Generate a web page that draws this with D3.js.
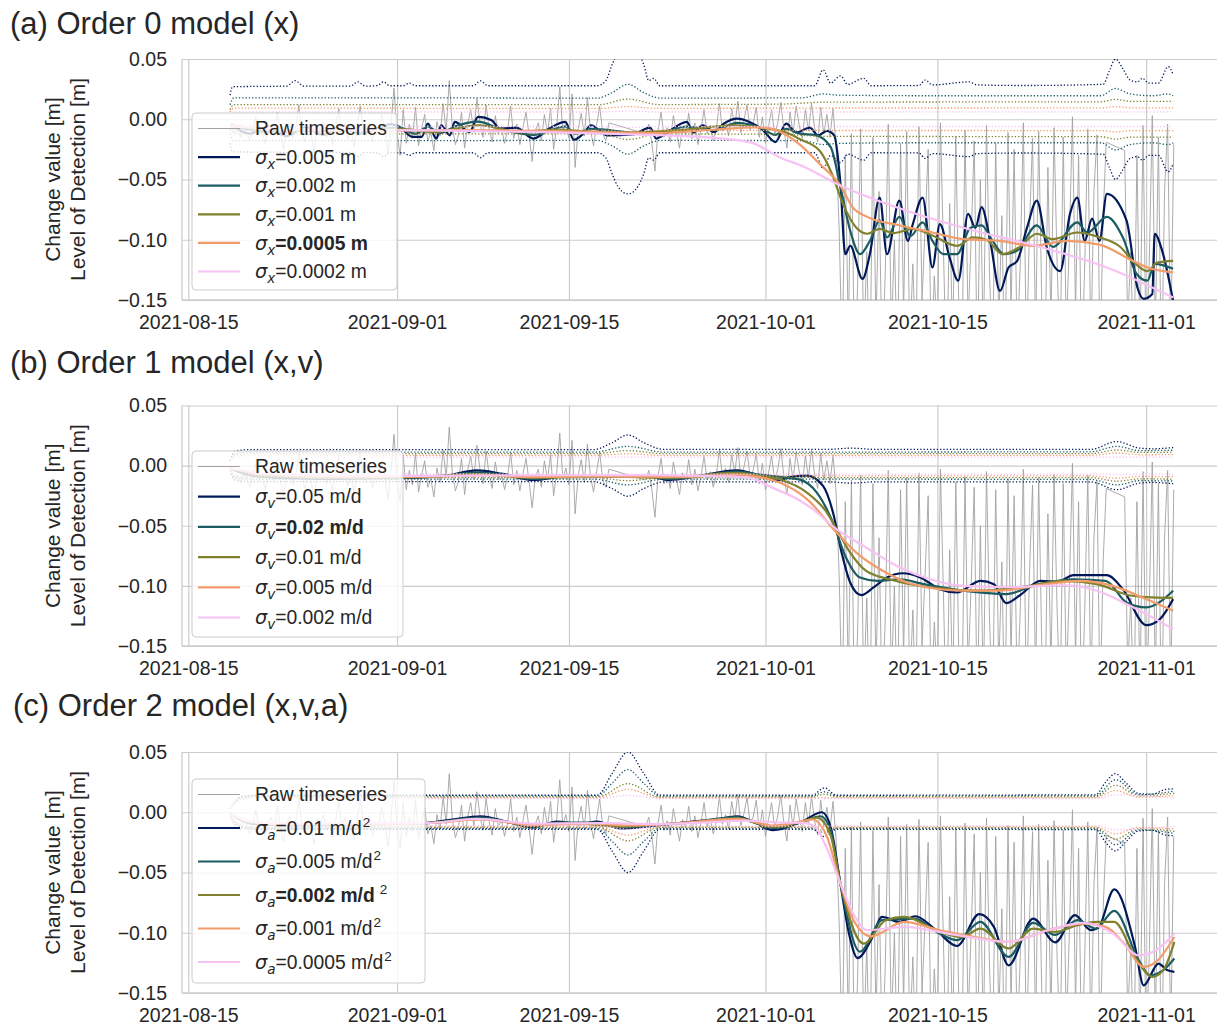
<!DOCTYPE html>
<html>
<head>
<meta charset="utf-8">
<script src="https://cdn.jsdelivr.net/npm/d3@7"></script>
<style>
  body { margin: 0; background: #fff; }
  text { font-family: "Liberation Sans", Arial, sans-serif; fill: #262626; }
</style>
</head>
<body>
<svg id="chart" width="1217" height="1027"></svg>
<script>
// ---- data -----------------------------------------------------------------
// raw change values [m], one every 6 hours from rawStart (null = no data)
const rawStart = '2021-08-18T12:00Z'
const rawStepHours = 6
const rawValues = [
  -0.004, -0.012,
  -0.008, -0.015, -0.006, -0.011,  -0.018, -0.009, 0.002, -0.013,  -0.007, -0.02, -0.01, -0.004,
  -0.014, 0.006, -0.012, -0.025,  -0.009, -0.003, -0.016, -0.008,  0.012, -0.011, -0.019, -0.006,
  -0.013, -0.027, -0.005, -0.01,  -0.002, -0.015, -0.009, -0.021,  -0.007, 0.009, -0.012, -0.004,
  -0.017, -0.008, -0.023, -0.006,  0.011, -0.01, -0.014, -0.003,  -0.019, -0.008, -0.012, 0.004,
  -0.009, -0.028, -0.006, 0.026,  -0.012, -0.03, 0.008, -0.02,  -0.004, -0.016, 0.01, -0.022,
  -0.008, 0.004, -0.018, -0.011,  -0.026, -0.002, -0.014, 0.013,  -0.01, 0.032, -0.006, -0.021,
  -0.013, 0.006, -0.024, -0.004,  0.008, -0.011, 0.017, -0.003,  -0.015, 0.012, -0.008, -0.019,
  0.003, -0.012, -0.006, -0.02,  -0.009, 0.011, -0.016, -0.004,  -0.021, -0.007, 0.006, -0.013,
  -0.035, -0.01, -0.003, -0.018,  0.004, -0.012, 0.009, -0.025,  -0.006, 0.027, -0.011, -0.002,
  -0.016, 0.021, -0.04, -0.008,  0.005, -0.014, 0.018, -0.009,  -0.022, -0.005, 0.011, -0.012,
  -0.018, -0.003, null, null,  null, null, null, null,  null, null, null, null,
  null, -0.012, -0.004, -0.02,  -0.043, -0.009, 0.006, -0.015,  -0.007, -0.019, 0.003, -0.011,
  -0.024, -0.006, -0.013, 0.005,  -0.016, -0.003, -0.021, -0.009,  0.008, -0.012, -0.005, -0.018,
  -0.008, 0.013, -0.01, -0.002,  -0.014, 0.009, -0.006, 0.015,  -0.011, -0.001, 0.012, -0.009,
  -0.004, 0.01, -0.015, 0.002,  -0.02, -0.006, 0.008, -0.013,  -0.003, 0.014, -0.009, -0.024,
  0.006, -0.012, 0.011, -0.005,  -0.016, 0.008, -0.01, 0.013,  -0.007, -0.019, 0.01, -0.012,
  0.004, -0.015, 0.009, -0.022,  -0.09, -0.2, -0.03, -0.18,  -0.012, -0.21, -0.14, -0.008,
  -0.19, -0.11, -0.22, -0.015,  -0.17, -0.06, -0.2, -0.13,  -0.004, -0.18, -0.1, -0.21,
  -0.02, -0.16, -0.01, -0.19,  -0.12, -0.2, -0.006, -0.15,  -0.09, -0.025, -0.2, -0.13,
  -0.18, -0.003, -0.11, -0.22,  -0.07, -0.19, -0.014, -0.16,  -0.2, -0.009, -0.17, -0.1,
  -0.018, -0.21, -0.05, -0.19,  -0.005, -0.13, -0.2, -0.02,  -0.17, -0.08, -0.22, -0.011,
  -0.16, -0.025, -0.19, -0.12,  -0.003, -0.2, -0.09, -0.016,  -0.18, -0.01, -0.15, -0.21,
  -0.04, -0.17, -0.007, -0.12,  -0.2, -0.015, -0.18, -0.1,  0.002, -0.16, -0.03, -0.21,
  -0.12, -0.008, -0.19, -0.06,  -0.013, -0.2, -0.08, -0.019,  null, null, null, null,
  null, -0.026, -0.17, -0.11,  -0.21, -0.03, -0.19, -0.005,  -0.2, -0.12, 0.003, -0.18,
  -0.015, -0.22, -0.06, -0.004,  -0.19, -0.02
]

// smoothed series: [days since dayZero, value in m]
const dayZero = '2021-08-15T00:00Z'

// (a) order 0
const fitX005 = [[3.5,-0.004],[5,-0.012],[6.5,-0.006],[8,-0.014],[9.5,-0.007],[11,-0.013],[12.5,-0.005],[14,-0.012],[15.5,-0.007],[16.5,-0.004],[17.2,-0.0064],[18.3,-0.0147],[19,-0.0147],[19.5,-0.0036],[20.2,-0.016],[20.6,-0.005],[21.3,-0.0133],[21.7,-0.0022],[22.9,-0.0106],[23.6,0.002],[24.7,-0.0008],[25.4,-0.0078],[26.7,-0.007],[28.1,-0.016],[29.5,-0.007],[30.7,-0.0022],[31.4,-0.017],[32.2,-0.0117],[32.8,-0.005],[34.1,-0.0133],[36.2,-0.0125],[37.6,-0.007],[38.1,-0.016],[39,-0.011],[40.6,-0.0022],[41.1,-0.011],[41.9,-0.005],[42.8,-0.0106],[43.6,-0.0036],[44.7,0.0006],[45.7,-0.0022],[46.8,-0.009],[47.8,-0.0189],[48.7,-0.0036],[49.5,-0.011],[50.6,-0.007],[51.3,-0.0135],[52,-0.0097],[52.6,-0.0135],[53.1,-0.053],[53.5,-0.112],[53.9,-0.105],[54.9,-0.1325],[55.5,-0.112],[56.3,-0.065],[56.9,-0.112],[57.9,-0.0675],[58.6,-0.101],[59,-0.087],[59.8,-0.065],[60.6,-0.123],[61.2,-0.087],[62,-0.115],[62.7,-0.134],[63.5,-0.0785],[64.1,-0.09],[64.6,-0.073],[65.3,-0.101],[66.1,-0.1425],[66.8,-0.123],[67.5,-0.1175],[68.3,-0.09],[69.1,-0.0675],[69.9,-0.106],[71,-0.126],[71.8,-0.0785],[72.4,-0.065],[73,-0.101],[73.6,-0.0825],[74.2,-0.101],[74.8,-0.062],[76.4,-0.084],[77.3,-0.14],[77.8,-0.149],[78.5,-0.145],[78.7,-0.095],[79.3,-0.109],[80.2,-0.151]]
const fitX002 = [[3.5,-0.005],[6,-0.01],[10,-0.0095],[14,-0.009],[17.2,-0.007],[18.5,-0.012],[19.5,-0.006],[20.5,-0.0115],[21.7,-0.006],[23.6,-0.002],[25.4,-0.008],[28.1,-0.013],[30.7,-0.006],[31.5,-0.012],[32.8,-0.008],[36,-0.011],[38,-0.012],[40.6,-0.006],[42.8,-0.009],[44.7,-0.003],[46.8,-0.008],[47.8,-0.013],[48.7,-0.008],[49.8,-0.012],[51,-0.013],[52.3,-0.023],[53.1,-0.056],[53.9,-0.0925],[54.7,-0.112],[55.5,-0.101],[56.3,-0.084],[56.9,-0.098],[57.9,-0.081],[58.8,-0.097],[59.8,-0.0855],[60.6,-0.101],[61.5,-0.112],[62.6,-0.112],[63.7,-0.09],[64.6,-0.088],[65.5,-0.101],[66.4,-0.112],[67.5,-0.109],[69.1,-0.088],[70.4,-0.106],[72.4,-0.0855],[73.2,-0.094],[74.8,-0.081],[76.1,-0.098],[77.2,-0.128],[78.1,-0.134],[78.7,-0.12],[80.2,-0.124]]
const fitX001 = [[3.5,-0.005],[8,-0.0095],[14,-0.009],[17.2,-0.008],[20,-0.0105],[23.6,-0.005],[27,-0.0105],[30,-0.0085],[33,-0.0105],[36,-0.011],[40,-0.009],[44.5,-0.005],[47,-0.0075],[48.7,-0.011],[49.8,-0.0165],[51.4,-0.026],[52.4,-0.045],[53.3,-0.07],[54.4,-0.09],[55.3,-0.095],[56.3,-0.091],[57.4,-0.0945],[59,-0.091],[60.6,-0.0965],[62.6,-0.105],[63.9,-0.098],[65,-0.1],[66.3,-0.112],[67.7,-0.106],[69.1,-0.095],[70.4,-0.0995],[72.4,-0.094],[74.2,-0.098],[75.9,-0.106],[76.9,-0.1175],[78.1,-0.126],[78.9,-0.119],[80.2,-0.1175]]
const fitX0005 = [[3.5,-0.005],[8,-0.009],[15,-0.0095],[22,-0.009],[30,-0.01],[38,-0.0115],[43,-0.0085],[46,-0.0068],[47.1,-0.0072],[48.5,-0.012],[49.8,-0.021],[51.4,-0.037],[53.1,-0.055],[54.1,-0.073],[55.3,-0.081],[57.9,-0.088],[60.6,-0.094],[62.8,-0.099],[66.1,-0.101],[68.8,-0.105],[71.6,-0.101],[74.2,-0.104],[76.9,-0.1175],[78.1,-0.123],[80.2,-0.127]]
const fitX0002 = [[3.5,-0.006],[8,-0.008],[17,-0.009],[28,-0.0105],[36.2,-0.0125],[41.7,-0.0147],[45.7,-0.019],[48.4,-0.0327],[49.8,-0.038],[53.1,-0.055],[58.5,-0.076],[64,-0.0925],[69.4,-0.106],[74.8,-0.123],[80.2,-0.148]]

// (b) order 1
const fitV05 = [[3.4,-0.002],[5,-0.008],[8,-0.0105],[12,-0.011],[15,-0.0105],[17.5,-0.0102],[21,-0.0083],[23.5,-0.0039],[25.6,-0.0069],[28.1,-0.0119],[30.8,-0.0088],[34.6,-0.0088],[37.3,-0.0088],[39.2,-0.0119],[41.4,-0.0088],[44.7,-0.0039],[46.3,-0.0075],[47.9,-0.0124],[49,-0.0095],[50.4,-0.0083],[51.7,-0.0171],[52.5,-0.039],[53.2,-0.0723],[53.9,-0.0972],[54.8,-0.1077],[55.8,-0.1013],[56.9,-0.093],[58.2,-0.0895],[59.6,-0.093],[61.2,-0.1027],[62.6,-0.1055],[64.5,-0.0958],[65.6,-0.0986],[66.6,-0.1143],[67.7,-0.108],[69.4,-0.0958],[70.8,-0.0966],[72.1,-0.0911],[74.8,-0.0911],[76.1,-0.1027],[78,-0.1326],[79.1,-0.1278],[80.2,-0.111]]
const fitV02 = [[3.4,-0.002],[6,-0.008],[12,-0.0105],[17.5,-0.01],[21,-0.0085],[23.5,-0.0055],[25.6,-0.0075],[28.1,-0.011],[30.8,-0.009],[34.6,-0.009],[37.3,-0.009],[39.2,-0.011],[41.4,-0.009],[44.7,-0.005],[46.3,-0.0072],[48.2,-0.0094],[49.8,-0.0116],[51.2,-0.0226],[52.5,-0.0475],[53.5,-0.0751],[54.7,-0.093],[56.1,-0.0958],[57.9,-0.0945],[59.9,-0.0986],[63.1,-0.104],[66.6,-0.1069],[68.8,-0.1],[72,-0.0945],[74.7,-0.0958],[76.4,-0.1138],[78,-0.1179],[80.2,-0.104]]
const fitV01 = [[3.4,-0.002],[6,-0.008],[12,-0.01],[17.5,-0.0098],[23.5,-0.007],[28.1,-0.01],[34,-0.009],[39,-0.01],[44.7,-0.006],[46.5,-0.0085],[48.2,-0.0116],[50.4,-0.0226],[52,-0.039],[52.8,-0.053],[53.9,-0.0723],[55.2,-0.0876],[57.1,-0.0945],[60.4,-0.1013],[64.5,-0.104],[68.5,-0.1],[71.2,-0.0958],[74,-0.0986],[76.7,-0.108],[78.5,-0.1096],[80.2,-0.11]]
const fitV005 = [[3.4,-0.002],[6,-0.007],[12,-0.0095],[20,-0.0092],[24,-0.0078],[28,-0.0095],[35,-0.009],[40,-0.0095],[44.5,-0.0075],[46.5,-0.0095],[48.2,-0.0143],[50.4,-0.028],[52.8,-0.0558],[54.4,-0.0723],[56.3,-0.086],[59,-0.0986],[63.1,-0.104],[65.8,-0.104],[69.9,-0.0986],[72.6,-0.0958],[75.3,-0.1],[78,-0.111],[80.2,-0.1207]]
const fitV002 = [[3.4,-0.002],[6,-0.006],[12,-0.0085],[20,-0.0085],[30,-0.008],[38,-0.008],[42,-0.0085],[45.5,-0.0097],[47.6,-0.0185],[49.8,-0.029],[50.9,-0.0365],[52.8,-0.053],[55,-0.0668],[57.7,-0.0834],[60.4,-0.0945],[63.1,-0.1],[67.2,-0.101],[71.2,-0.0995],[74,-0.104],[76.7,-0.1166],[80.2,-0.136]]

// (c) order 2
const fitA01 = [[3.4,-0.001],[5,-0.009],[8,-0.011],[12,-0.0105],[16,-0.0095],[19.4,-0.0089],[21.5,-0.006],[23.8,-0.0033],[26,-0.008],[28.1,-0.0125],[30,-0.0077],[31.9,-0.0099],[33.3,-0.0077],[35.2,-0.0135],[37.6,-0.0116],[39.5,-0.0095],[41.1,-0.0077],[43,-0.006],[44.7,-0.0033],[46.2,-0.009],[47.6,-0.0149],[50,-0.0077],[51.6,0],[52.3,-0.0119],[53.1,-0.059],[53.8,-0.1007],[54.5,-0.121],[55.6,-0.106],[56.5,-0.0868],[57.9,-0.091],[59.2,-0.0863],[60.9,-0.0979],[62.6,-0.111],[64.4,-0.0846],[65.6,-0.0951],[66.8,-0.127],[68.8,-0.0882],[70.6,-0.108],[72.2,-0.0854],[73.5,-0.0979],[74.1,-0.096],[75.4,-0.064],[77.1,-0.1118],[77.8,-0.1436],[79,-0.1256],[79.7,-0.131],[80.3,-0.1325]]
const fitA005 = [[3.4,-0.001],[5,-0.009],[8,-0.0105],[14,-0.01],[19.4,-0.009],[23.8,-0.0045],[28.1,-0.0115],[30,-0.0085],[33.3,-0.0085],[35.2,-0.0125],[37.6,-0.011],[41.1,-0.008],[44.7,-0.004],[47.6,-0.013],[50,-0.008],[51.5,-0.0033],[52.3,-0.015],[53.1,-0.059],[54.7,-0.1157],[56.5,-0.0896],[59.1,-0.0882],[61.2,-0.1007],[62.6,-0.1062],[64.5,-0.091],[66.8,-0.12],[68.8,-0.0918],[70.6,-0.1018],[72.4,-0.0896],[73.9,-0.0965],[75.4,-0.0819],[77.4,-0.1228],[78.3,-0.1353],[79.4,-0.131],[80.3,-0.1214]]
const fitA002 = [[3.4,-0.001],[5,-0.008],[8,-0.01],[14,-0.0098],[19.4,-0.009],[23.8,-0.0055],[28.1,-0.011],[31,-0.009],[35.2,-0.012],[37.6,-0.0105],[41.1,-0.0085],[44.7,-0.005],[47.6,-0.012],[49.8,-0.0085],[51.2,-0.0044],[52.3,-0.019],[53.1,-0.059],[55,-0.109],[56.8,-0.0896],[58.3,-0.0868],[61.2,-0.0993],[63,-0.1035],[64.5,-0.0965],[66.8,-0.113],[68.8,-0.0965],[70.6,-0.0993],[72.4,-0.0938],[73.9,-0.091],[75.4,-0.091],[77.1,-0.12],[78.5,-0.1366],[79.4,-0.131],[80.3,-0.1076]]
const fitA001 = [[3.4,-0.001],[5,-0.008],[8,-0.0098],[14,-0.0096],[19.4,-0.009],[23.8,-0.006],[28.1,-0.0105],[33,-0.0095],[36,-0.011],[40,-0.009],[44.7,-0.0055],[47.6,-0.011],[49.5,-0.0085],[50.8,-0.006],[52,-0.02],[53.1,-0.059],[54.2,-0.09],[55.6,-0.103],[58.3,-0.091],[61.2,-0.0979],[64.1,-0.1035],[66.8,-0.1076],[70,-0.0979],[72.9,-0.0924],[74.7,-0.0951],[76.2,-0.109],[77.8,-0.1283],[78.8,-0.1242],[80.3,-0.1035]]
const fitA0005 = [[3.4,-0.001],[5,-0.0075],[8,-0.0095],[14,-0.0093],[19.4,-0.009],[23.5,-0.0055],[28,-0.0095],[34,-0.009],[38,-0.0098],[42,-0.0085],[45.5,-0.007],[48,-0.0085],[50.1,-0.0088],[51,-0.0116],[52,-0.03],[53.1,-0.059],[54.2,-0.085],[55.3,-0.0979],[58.3,-0.0951],[62.6,-0.102],[66.8,-0.1076],[70,-0.0979],[72.9,-0.0918],[75.3,-0.1007],[77.4,-0.1187],[78.8,-0.1145],[80.3,-0.1007]]

// level of detection (half width, drawn as +lod and -lod)
const lodX005 = [[3.4,0.02],[3.6,0.027],[8,0.0275],[8.7,0.032],[9.4,0.0275],[13.2,0.0275],[13.8,0.031],[14.4,0.0275],[15.4,0.028],[15.9,0.031],[16.4,0.0278],[17.5,0.0278],[18,0.03],[18.5,0.0278],[23.2,0.0278],[23.8,0.0318],[24.4,0.0278],[33.3,0.0278],[34,0.032],[34.5,0.045],[35,0.056],[35.8,0.062],[36.6,0.056],[37.1,0.045],[37.5,0.032],[37.9,0.034],[38.4,0.0278],[51,0.0278],[51.7,0.041],[52.3,0.03],[53.1,0.036],[53.7,0.029],[55,0.034],[55.6,0.0278],[59.5,0.028],[60,0.0325],[60.6,0.0285],[63.6,0.031],[64.2,0.0285],[68,0.028],[74.5,0.029],[75,0.04],[75.5,0.05],[76.1,0.042],[76.7,0.0325],[77.3,0.031],[77.7,0.034],[78.2,0.03],[79,0.03],[79.8,0.0436],[80.2,0.037]]
const lodX002 = [[3.4,0.012],[3.7,0.0178],[17,0.0178],[33.3,0.0175],[34.5,0.022],[35.8,0.029],[37.1,0.022],[38.5,0.0175],[50,0.0178],[51.7,0.021],[53,0.02],[60,0.0195],[74.3,0.0195],[75.5,0.0255],[76.7,0.021],[78.5,0.0195],[79.8,0.021],[80.2,0.0195]]
const lodX001 = [[3.4,0.008],[3.7,0.0122],[33.5,0.0122],[35.8,0.0168],[38.3,0.0122],[48,0.0125],[52,0.0142],[74.3,0.0145],[75.5,0.0165],[76.8,0.0148],[80.2,0.0148]]
const lodX0005 = [[3.4,0.006],[3.7,0.0092],[33.5,0.009],[35.8,0.0105],[38.3,0.009],[50,0.0093],[74.3,0.0094],[75.5,0.0105],[76.8,0.0095],[80.2,0.0095]]
const lodX0002 = [[3.4,0.004],[3.7,0.006],[33.5,0.006],[35.8,0.0068],[38.3,0.006],[80.2,0.0062]]

const lodV05 = [[3.4,0.004],[3.8,0.012],[5,0.0133],[33,0.0133],[34.5,0.019],[35.8,0.0255],[37.1,0.019],[38.7,0.0135],[52,0.0135],[54,0.0145],[56,0.0135],[73.5,0.0135],[75.6,0.02],[77.5,0.0145],[78.5,0.014],[80.2,0.015]]
const lodV02 = [[3.4,0.004],[3.8,0.01],[5,0.0112],[33,0.0112],[35.8,0.016],[38.7,0.0112],[73.5,0.0115],[75.6,0.016],[77.5,0.0125],[80.2,0.0128]]
const lodV01 = [[3.4,0.004],[3.8,0.009],[5,0.0099],[33,0.0099],[35.8,0.0125],[38.7,0.0099],[73.5,0.01],[75.6,0.013],[77.5,0.011],[80.2,0.0112]]
const lodV005 = [[3.4,0.004],[3.8,0.008],[5,0.0085],[33,0.0085],[35.8,0.0098],[38.7,0.0085],[73.5,0.0086],[75.6,0.0105],[77.5,0.009],[80.2,0.0092]]
const lodV002 = [[3.4,0.003],[3.8,0.0065],[5,0.0069],[80.2,0.0071]]

const lodA01 = [[3.4,0.003],[4.3,0.013],[5.5,0.0141],[33.3,0.0141],[34.5,0.032],[35.8,0.05],[37.1,0.032],[38.4,0.0141],[50.8,0.0141],[51.8,0.0202],[52.8,0.0141],[73.9,0.0145],[74.7,0.025],[75.5,0.032],[76.3,0.025],[77.4,0.0155],[78.5,0.015],[79.6,0.019],[80.3,0.0195]]
const lodA005 = [[3.4,0.003],[4.3,0.012],[5.5,0.0133],[33.3,0.0133],[34.5,0.024],[35.8,0.0354],[37.1,0.024],[38.4,0.0133],[50.8,0.0133],[51.8,0.017],[52.8,0.0134],[73.9,0.0136],[75.5,0.027],[77.4,0.0145],[80.3,0.0175]]
const lodA002 = [[3.4,0.003],[4.3,0.011],[5.5,0.0126],[33.3,0.0126],[35.8,0.0237],[38.4,0.0126],[50.8,0.0126],[51.8,0.015],[52.8,0.0127],[73.9,0.0128],[75.5,0.0224],[77.4,0.0135],[80.3,0.0158]]
const lodA001 = [[3.4,0.003],[4.3,0.0105],[5.5,0.012],[33.3,0.012],[35.8,0.019],[38.4,0.012],[73.9,0.012],[75.5,0.018],[77.4,0.0125],[80.3,0.0138]]
const lodA0005 = [[3.4,0.003],[4.3,0.0098],[5.5,0.0113],[33.3,0.0113],[35.8,0.014],[38.4,0.0113],[73.9,0.0113],[75.5,0.0145],[80.3,0.0118]]

// legend labels and ticks
const labelsX = ['0.005 m', '0.002 m', '0.001 m', '0.0005 m', '0.0002 m']
const labelsV = ['0.05 m/d', '0.02 m/d', '0.01 m/d', '0.005 m/d', '0.002 m/d']
const labelsA = ['0.01 m/d', '0.005 m/d', '0.002 m/d', '0.001 m/d', '0.0005 m/d']
const xTicks = ['2021-08-15', '2021-09-01', '2021-09-15', '2021-10-01', '2021-10-15', '2021-11-01']
const yTicks = [0.05, 0, -0.05, -0.1, -0.15]
const xLimits = ['2021-08-14T11:40Z', '2021-11-06T18:30Z']
const yLimits = [-0.15, 0.05]

// ---- style / layout ---------------------------------------------------------
const colors = ['#011959', '#1b5c62', '#80802f', '#f39c6b', '#f7c2f4']
const gridColor = '#cccccc'
const rawColor = '#a2a2a2'
const left = 182
const right = 1217

const panels = [
  { title: '(a) Order 0 model (x)', titleX: 10, titleY: 34, top: 59, bottom: 300,
    fits: [fitX005, fitX002, fitX001, fitX0005, fitX0002],
    lods: [lodX005, lodX002, lodX001, lodX0005, lodX0002],
    sub: 'x', labels: labelsX, bold: 3, sup: false,
    legend: { top: 113, width: 205, height: 177, row: 28.6 } },
  { title: '(b) Order 1 model (x,v)', titleX: 10, titleY: 373, top: 405.5, bottom: 646,
    fits: [fitV05, fitV02, fitV01, fitV005, fitV002],
    lods: [lodV05, lodV02, lodV01, lodV005, lodV002],
    sub: 'v', labels: labelsV, bold: 1, sup: false,
    legend: { top: 451, width: 211, height: 186, row: 30.2 } },
  { title: '(c) Order 2 model (x,v,a)', titleX: 13, titleY: 716, top: 752, bottom: 993,
    fits: [fitA01, fitA005, fitA002, fitA001, fitA0005],
    lods: [lodA01, lodA005, lodA002, lodA001, lodA0005],
    sub: 'a', labels: labelsA, bold: 2, sup: true,
    legend: { top: 779, width: 233, height: 204, row: 33.5 } }
]

// ---- drawing ----------------------------------------------------------------
const svg = d3.select('#chart')
const t0 = new Date(dayZero).getTime()
const dayDate = d => new Date(t0 + d * 864e5)
const rawT = new Date(rawStart).getTime()
const rawPoints = rawValues
  .map((v, i) => ({ date: new Date(rawT + i * rawStepHours * 36e5), v }))
  .filter(d => d.v !== null)

const x = d3.scaleUtc()
  .domain(xLimits.map(s => new Date(s)))
  .range([left, right])

const styleAxis = (g, size) => {
  g.select('.domain').remove()
  g.selectAll('.tick line').attr('stroke', gridColor).attr('stroke-width', 1.2)
  g.selectAll('.tick text')
    .attr('fill', '#262626')
    .style('font-family', '"Liberation Sans", Arial, sans-serif')
    .style('font-size', size)
}

panels.forEach((p, pi) => {
  const y = d3.scaleLinear().domain(yLimits).range([p.bottom, p.top])
  const g = svg.append('g')

  g.append('g')
    .attr('transform', `translate(${left},0)`)
    .call(d3.axisLeft(y).tickValues(yTicks).tickSize(-(right - left)).tickPadding(15)
      .tickFormat(d3.format('.2f')))
    .call(styleAxis, '19.5px')

  g.append('g')
    .attr('transform', `translate(0,${p.bottom})`)
    .call(d3.axisBottom(x).tickValues(xTicks.map(s => new Date(s + 'T00:00Z')))
      .tickSize(-(p.bottom - p.top)).tickPadding(15)
      .tickFormat(d3.utcFormat('%Y-%m-%d')))
    .call(styleAxis, '19.5px')

  // left and bottom spines
  g.append('line').attr('x1', left).attr('x2', left).attr('y1', p.top).attr('y2', p.bottom)
    .attr('stroke', gridColor).attr('stroke-width', 1.3)
  g.append('line').attr('x1', left).attr('x2', right).attr('y1', p.bottom).attr('y2', p.bottom)
    .attr('stroke', gridColor).attr('stroke-width', 1.3)

  // titles
  svg.append('text').attr('x', p.titleX).attr('y', p.titleY)
    .style('font-size', '31px').text(p.title)
  const ylab = svg.append('text')
    .attr('transform', `translate(53,${(p.top + p.bottom) / 2}) rotate(-90)`)
    .attr('text-anchor', 'middle').style('font-size', '21px')
  ylab.append('tspan').attr('x', 0).attr('dy', '0.35em').text('Change value [m]')
  ylab.append('tspan').attr('x', 0).attr('dy', 25).text('Level of Detection [m]')

  // plotted data, clipped to the axes
  const clipId = 'clip' + pi
  svg.append('clipPath').attr('id', clipId)
    .append('rect').attr('x', left).attr('y', p.top)
    .attr('width', right - left).attr('height', p.bottom - p.top)
  const plot = g.append('g').attr('clip-path', `url(#${clipId})`)

  plot.append('path')
    .datum(rawPoints)
    .attr('fill', 'none').attr('stroke', rawColor).attr('stroke-width', 0.9)
    .attr('d', d3.line().x(d => x(d.date)).y(d => y(d.v)))

  const curve = d3.line().curve(d3.curveMonotoneX)
  p.fits.forEach((fit, i) => {
    const lod = p.lods[i]
    plot.append('path')
      .attr('fill', 'none').attr('stroke', colors[i]).attr('stroke-width', 2.2)
      .attr('d', curve.x(d => x(dayDate(d[0]))).y(d => y(d[1]))(fit))
    ;[1, -1].forEach(s => {
      plot.append('path')
        .attr('fill', 'none').attr('stroke', colors[i]).attr('stroke-width', 1.3)
        .attr('stroke-dasharray', '1.3,2')
        .attr('d', curve.x(d => x(dayDate(d[0]))).y(d => y(s * d[1]))(lod))
    })
  })

  // legend
  const L = p.legend
  const lg = g.append('g')
  lg.append('rect')
    .attr('x', 192).attr('y', L.top).attr('width', L.width).attr('height', L.height)
    .attr('rx', 4).attr('fill', '#ffffff').attr('fill-opacity', 0.8)
    .attr('stroke', '#cccccc').attr('stroke-width', 1)
  const rows = [null].concat(p.labels)
  rows.forEach((lab, i) => {
    const cy = L.top + 15.5 + i * L.row
    lg.append('line').attr('x1', 198).attr('x2', 240).attr('y1', cy).attr('y2', cy)
      .attr('stroke', i === 0 ? rawColor : colors[i - 1])
      .attr('stroke-width', i === 0 ? 1 : 2.2)
    const t = lg.append('text').attr('x', 255).attr('y', cy).attr('dy', '0.35em')
      .style('font-size', '19.3px')
    if (i === 0) { t.text('Raw timeseries'); return }
    t.append('tspan').style('font-family', '"DejaVu Sans"').style('font-style', 'italic').text('σ')
    t.append('tspan').style('font-family', '"DejaVu Sans"').style('font-style', 'italic')
      .style('font-size', '13.5px').attr('dy', 5).text(p.sub)
    t.append('tspan').attr('dy', -5)
      .style('font-weight', i - 1 === p.bold ? 'bold' : null)
      .text('=' + lab)
    if (p.sup) {
      t.append('tspan').style('font-size', '13.5px').attr('dy', -8)
        .attr('dx', i - 1 === p.bold ? 5 : 1).text('2')
    }
  })
})
</script>
</body>
</html>
